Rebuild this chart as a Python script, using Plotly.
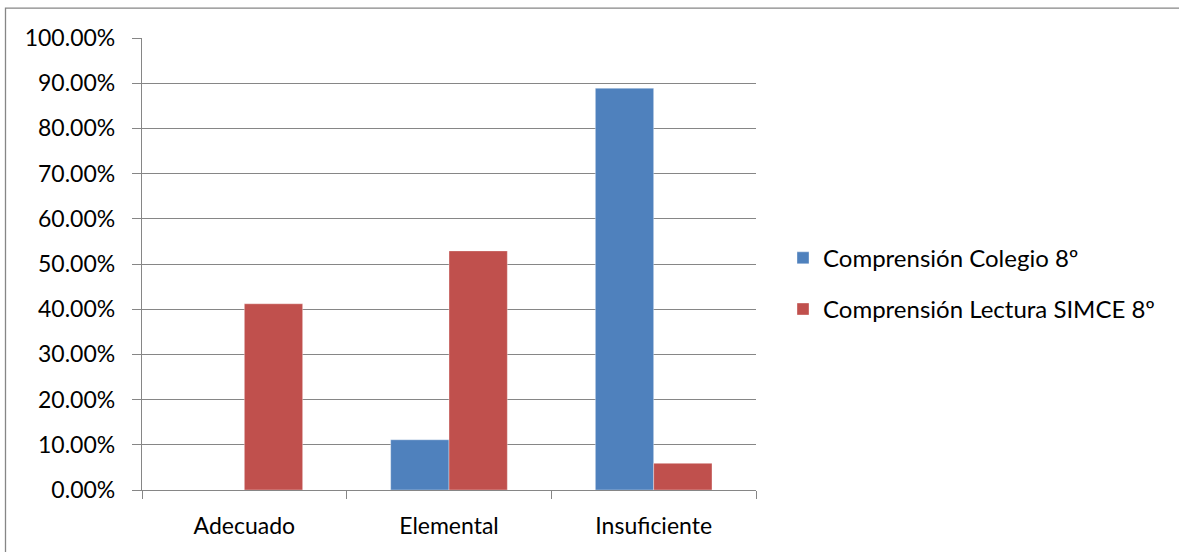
import plotly.graph_objects as go

categories = ["Adecuado", "Elemental", "Insuficiente"]
colegio = [0.0, 0.1111, 0.8889]
simce = [0.412, 0.529, 0.059]
series_names = ["Comprensión Colegio 8º", "Comprensión Lectura SIMCE 8º"]
y_ticks = [0, 0.1, 0.2, 0.3, 0.4, 0.5, 0.6, 0.7, 0.8, 0.9, 1.0]
y_tick_labels = ["0.00%", "10.00%", "20.00%", "30.00%", "40.00%", "50.00%",
                 "60.00%", "70.00%", "80.00%", "90.00%", "100.00%"]

W, H = 1179, 552
L, R, T, B = 142, 756, 37.5, 490
pw, ph = R - L, B - T

FONT = "Lato"
GRAY = "#868686"

fig = go.Figure()
fig.add_trace(go.Bar(x=categories, y=colegio, name=series_names[0],
                     marker=dict(color="#4F81BD", line=dict(color="rgba(255,255,255,0.6)", width=0.6)),
                     legendgroup="a"))
fig.add_trace(go.Bar(x=categories, y=simce, name=series_names[1],
                     marker=dict(color="#C0504D", line=dict(color="rgba(255,255,255,0.6)", width=0.6)),
                     legendgroup="b"))

# outer chart frame
fig.add_shape(type="rect", xref="paper", yref="paper",
              x0=(5.5 - L) / pw, x1=(W + 10 - L) / pw,
              y0=(B - (H + 10)) / ph, y1=(B - 7.5) / ph,
              line=dict(color=GRAY, width=1.3), fillcolor="rgba(0,0,0,0)", layer="below")

fig.update_layout(
    width=W, height=H,
    margin=dict(l=L, r=W - R, t=T, b=H - B, pad=0),
    paper_bgcolor="white", plot_bgcolor="white",
    barmode="group", bargap=0.43, bargroupgap=0,
    font=dict(family=FONT, size=23, color="#000000"),
    showlegend=True,
    legend=dict(x=(783 - L) / pw, y=(B - 283.5) / ph, xanchor="left", yanchor="middle",
                font=dict(family=FONT, size=24, color="#000000"),
                tracegroupgap=17, bgcolor="rgba(0,0,0,0)"),
    xaxis=dict(showgrid=False, showline=True, linecolor=GRAY, linewidth=1.3,
               ticks="outside", ticklen=8, tickcolor=GRAY, tickwidth=1.3,
               tickson="boundaries", tickfont=dict(family=FONT, size=23),
               ticklabelstandoff=15),
    yaxis=dict(range=[0, 1.0], tickvals=y_ticks, ticktext=y_tick_labels,
               showgrid=True, gridcolor=GRAY, gridwidth=1.3,
               showline=True, linecolor=GRAY, linewidth=1.3,
               ticks="outside", ticklen=9, tickcolor=GRAY, tickwidth=1.3,
               tickfont=dict(family=FONT, size=23), zeroline=False,
               ticklabelstandoff=12),
)

fig.write_html("out.html", config={"displayModeBar": False},
               post_script="document.body.style.margin='0';document.body.style.overflow='hidden';")
